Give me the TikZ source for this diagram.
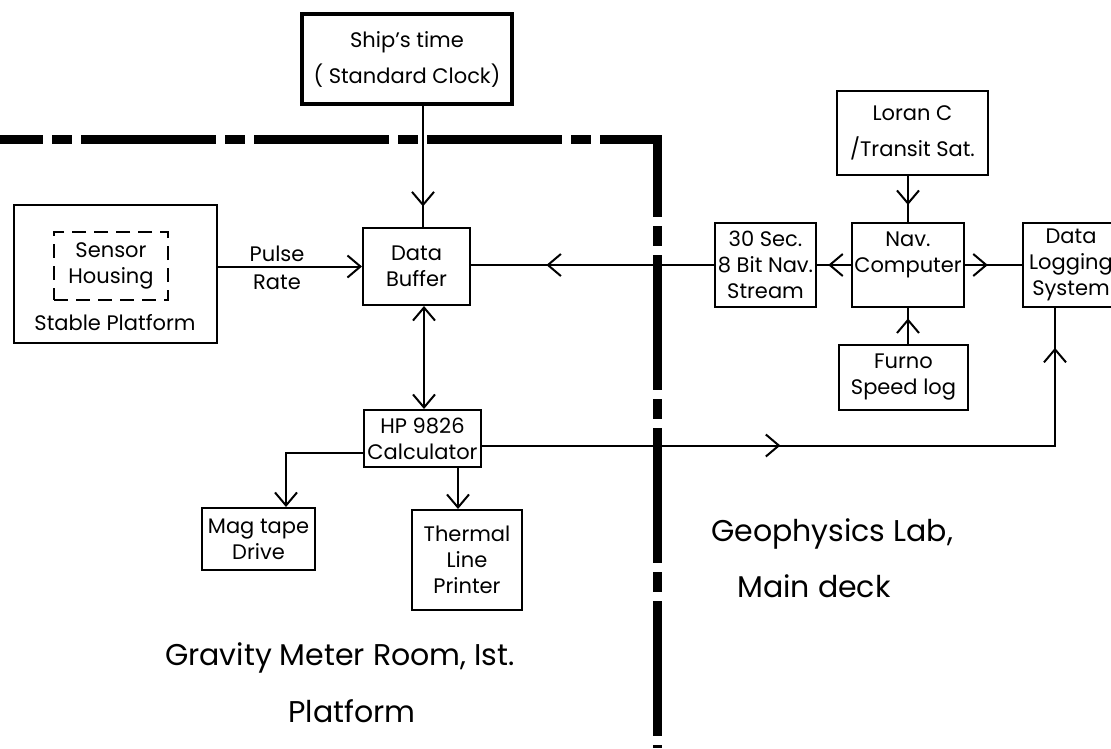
\documentclass[tikz,border=0pt]{standalone}
\usepackage{fontspec}
\setmainfont{Poppins}
\usetikzlibrary{arrows.meta, decorations.markings}

\begin{document}
\begin{tikzpicture}[
    x=1pt, y=-1pt,
    >={Straight Barb[length=13pt, width=22pt]},
    every node/.style={font=\fontsize{21}{26}\selectfont},
    box/.style={draw, line width=2pt, align=center, inner sep=0pt},
    dashbox/.style={box, dash pattern=on 14pt off 8pt},
    room/.style={font=\fontsize{30}{36}\selectfont, align=center},
    wire/.style={line width=2pt},
    midarrow/.style={postaction={decorate, decoration={markings,
        mark=at position #1 with {\arrow{>}}}}},
    boundary/.style={line width=9pt,
        dash pattern=on 135pt off 9pt on 20pt off 9pt, dash phase=92pt}
  ]
  \useasboundingbox (0,0) rectangle (1111,748);

  % room wall
  \coordinate (corner) at (657,139);
  \draw[boundary] (0,139) -- (corner) -- (657,748);

  % gravity meter room
  \node[box, line width=4pt, minimum width=210, minimum height=90] (ship) at (407,59)
    {Ship's time\\[10pt]( Standard Clock)};
  \node[box, minimum width=203, minimum height=138] (stable) at (115.5,274) {};
  \node[dashbox, minimum width=114, minimum height=68] (sensor) at (111,266) {Sensor\\Housing};
  \node (stablelbl) at (115,323) {Stable Platform};
  \node[box, minimum width=107, minimum height=77] (buffer) at (416.5,266.5) {Data\\Buffer};
  \node[box, minimum width=117, minimum height=57] (hp) at (422.5,438.5) {HP 9826\\Calculator};
  \node[box, minimum width=113, minimum height=62] (mag) at (258.5,539) {Mag tape\\Drive};
  \node[box, minimum width=110, minimum height=100] (thermal) at (467,560) {Thermal\\Line\\Printer};

  % geophysics lab
  \node[box, minimum width=151, minimum height=84] (loran) at (912.5,133)
    {Loran C\\[10pt]/Transit Sat.};
  \node[box, minimum width=112, minimum height=84] (nav) at (908,265) {Nav.\\Computer\\\mbox{}};
  \node[box, minimum width=101, minimum height=84] (stream) at (765.5,265) {30 Sec.\\8 Bit Nav.\\Stream};
  \node[box, minimum width=96, minimum height=84] (log) at (1071,265) {Data\\Logging\\System};
  \node[box, minimum width=129, minimum height=65] (furno) at (903.5,377.5) {Furno\\Speed log};

  % connections
  \draw[wire, midarrow=0.83] ([xshift=6.5pt]buffer.north |- ship.south) -- ([xshift=6.5pt]buffer.north);
  \draw[wire, ->] (buffer.west -| stable.east)
    -- node[pos=0.41, above] {Pulse} node[pos=0.41, below=4pt] {Rate} (buffer.west);
  \draw[wire, <->] ([xshift=7.5pt]buffer.south) -- ([xshift=7.5pt]buffer.south |- hp.north);
  \draw[wire, ->] ([yshift=-14.5pt]hp.west) -| ([xshift=27.5pt]mag.north);
  \draw[wire, ->] ([xshift=-9pt]thermal.north |- hp.south) -- ([xshift=-9pt]thermal.north);
  \draw[wire, midarrow=0.69] (stream.west) -- (stream.west -| buffer.east);
  \draw[wire, midarrow=0.67] (nav.west) -- (stream.east);
  \draw[wire, midarrow=0.4] (nav.east) -- (log.west);
  \draw[wire, midarrow=0.63] (nav.north |- loran.south) -- (nav.north);
  \draw[wire, midarrow=0.71] (nav.south |- furno.north) -- (nav.south);
  \draw[wire, midarrow=0.42, midarrow=0.944] ([yshift=-7pt]hp.east) -| ([xshift=-16pt]log.south);

  % room names
  \node[room] (geo) at (832,534) {Geophysics Lab,};
  \node[room] (deck) at (814,586) {Main deck};
  \node[room] (grav) at (340,658) {Gravity Meter Room, Ist.};
  \node[room] (plat) at (352,711) {Platform};
\end{tikzpicture}
\end{document}
